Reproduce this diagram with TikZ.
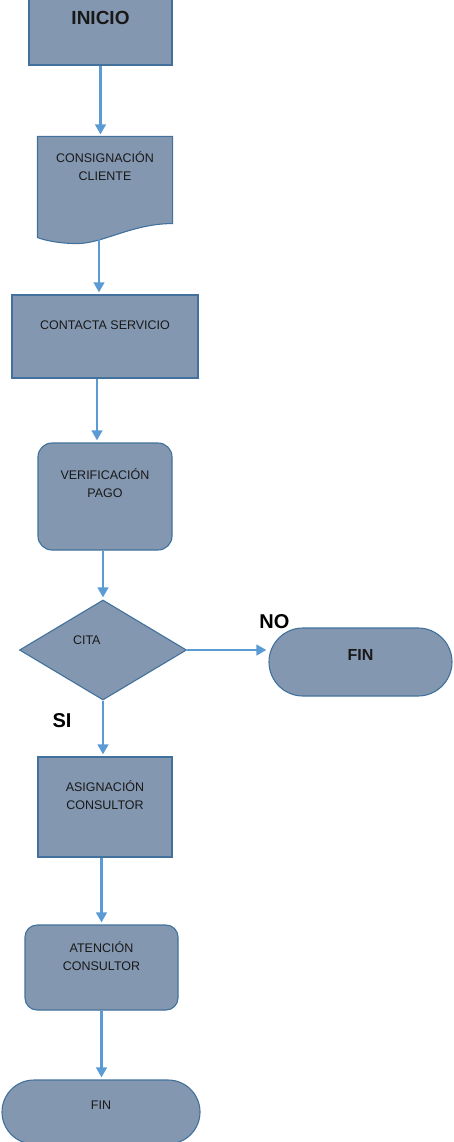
\documentclass[tikz,border=0pt]{standalone}
\usepackage{fontspec}
\setmainfont{Liberation Sans}
\usetikzlibrary{arrows.meta,backgrounds,calc,positioning,shapes.geometric,shapes.misc}
\definecolor{boxfill}{HTML}{8497B0}
\definecolor{boxline}{HTML}{41719C}
\definecolor{flowblue}{HTML}{5B9BD5}
\tikzset{
    flow chart/.style = {x=1pt, y=-1pt},
    lift text/.style  = {text depth=#1},
    shape base/.style = {draw=boxline, fill=boxfill, line width=1.1pt,
                         inner sep=0pt, align=center, text=black!90,
                         font=\fontsize{12.5}{18}\selectfont},
    process/.style    = {shape base, rectangle},
    rprocess/.style   = {process, rounded corners=14pt},
    docbox/.style     = {shape base, draw=none, fill=none, rectangle},
    decision/.style   = {shape base, diamond, text width=60pt, align=left},
    terminal/.style   = {shape base, rounded rectangle},
    flow/.style       = {draw=flowblue, line width=2.8pt, shorten >=2pt,
                         -{Triangle[length=10pt,width=10.5pt]}},
    branch/.style     = {font=\bfseries\fontsize{20}{20}\selectfont,
                         inner sep=0pt}
}

\begin{document}
\begin{tikzpicture}[flow chart]

\useasboundingbox (0,0) rectangle (453,1142);
\clip (0,0) rectangle (453,1142);

% ================= Main column =================
\node[process, minimum width=143pt, minimum height=95pt,
      font=\bfseries\fontsize{19}{19}\selectfont] (inicio) at (100.5,17.5) {INICIO};

\node[docbox, minimum width=134pt, minimum height=86pt, lift text=27.6pt]
    (consig) at (105,180) {CONSIGNACIÓN\\CLIENTE};
\begin{scope}[on background layer]
  \draw[shape base] (consig.north west) -- (consig.north east) -- (consig.south east)
      .. controls ($(consig.south east)+(-40,0)$) and ($(consig.south east)+(-70,20)$)
      .. ($(consig.south east)+(-95,20)$)
      .. controls ($(consig.south west)+(22,20)$) and ($(consig.south west)+(8,17)$)
      .. ($(consig.south west)+(0,14)$) -- cycle;
\end{scope}
\coordinate (consigout) at ($(consig.south)+(-6,15)$);

\node[process, minimum width=186pt, minimum height=83pt, lift text=23pt]
    (contacta) at (105,336.5) {CONTACTA SERVICIO};

\node[rprocess, minimum width=134pt, minimum height=107pt, lift text=27.6pt]
    (verif) at (105,496.5) {VERIFICACIÓN\\PAGO};

\node[decision, minimum width=167pt, minimum height=100pt, lift text=20pt]
    (cita) at (103,650) {CITA};

\node[process, minimum width=134pt, minimum height=100pt, lift text=24.6pt]
    (asign) at (105,807) {ASIGNACIÓN\\CONSULTOR};

\node[rprocess, rounded corners=12pt, minimum width=153pt, minimum height=85pt,
      lift text=23.6pt] (atencion) at (101.5,967.5) {ATENCIÓN\\CONSULTOR};

\node[terminal, minimum width=198pt, minimum height=64pt, lift text=14pt]
    (finb) at (101,1112) {FIN};

% ================= NO branch =================
\node[terminal, minimum width=183pt, minimum height=68pt, lift text=14pt,
      font=\bfseries\fontsize{16}{16}\selectfont] (finr) at (360.5,662) {FIN};

% ================= Connectors =================
\draw[flow] (inicio.south) -- (inicio.south |- consig.north);
\draw[flow] (consigout) -- (consigout |- contacta.north);
\draw[flow] ([xshift=-8pt]contacta.south) -- ([xshift=-8pt]verif.north);
\draw[flow] (verif.south -| cita.north) -- (cita.north);
\draw[flow] (cita.south) -- node[branch, pos=0, xshift=-41pt, yshift=-20pt] {SI}
    (cita.south |- asign.north);
\draw[flow] (cita.east) -- node[branch, pos=1, xshift=6pt, yshift=28pt] {NO}
    (cita.east -| finr.west);
\draw[flow] (atencion.north |- asign.south) -- (atencion.north);
\draw[flow] (atencion.south) -- (atencion.south |- finb.north);

\end{tikzpicture}
\end{document}
